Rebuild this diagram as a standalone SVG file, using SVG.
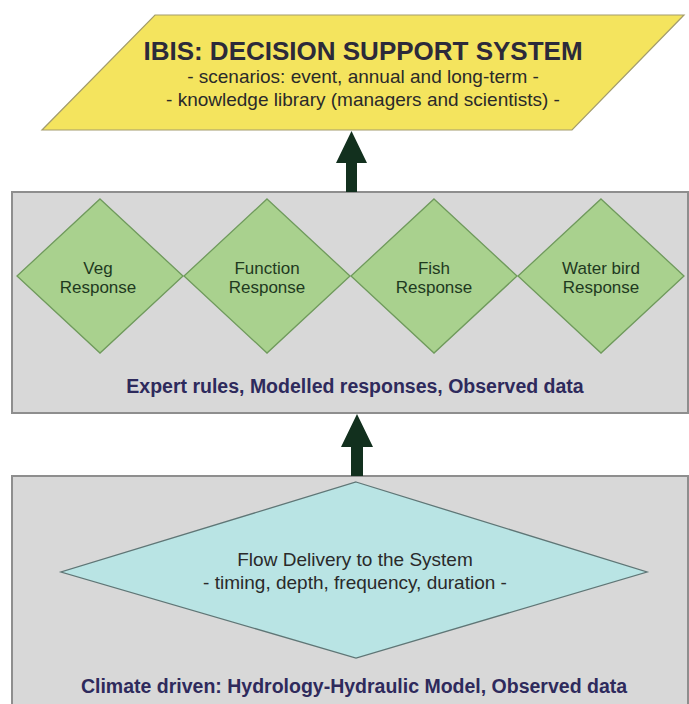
<svg xmlns="http://www.w3.org/2000/svg" width="689" height="704" viewBox="0 0 689 704">
  <defs>
    <style>
      .panel { fill: #d8d8d8; stroke: #8e8e8e; stroke-width: 2; }
      .green { fill: #a9d18e; stroke: #6f9a5c; stroke-width: 1.3; }
      .cyan { fill: #b9e4e4; stroke: #5f7676; stroke-width: 1.3; }
      .ibis { fill: #f4e45e; stroke: #a39c6c; stroke-width: 1.2; }
      .arrow { fill: #12301e; }
      .t { font-family: "Liberation Sans", Arial, sans-serif; text-anchor: middle; }
      .title { font-size: 26px; font-weight: bold; fill: #2c2a3a; }
      .sub { font-size: 19px; fill: #2a2a2a; }
      .resp { font-size: 17px; fill: #1f3a1f; }
      .cap { font-size: 19.5px; font-weight: bold; fill: #2e2a5c; }
    </style>
  </defs>

  <rect width="689" height="704" fill="#ffffff"/>

  <!-- response layer panel -->
  <g id="response-panel">
    <rect class="panel" x="12" y="192" width="676" height="221"/>
    <text class="t cap" x="355" y="393">Expert rules, Modelled responses, Observed data</text>
  </g>

  <!-- hydrology layer panel -->
  <g id="hydrology-panel">
    <rect class="panel" x="12" y="476" width="676" height="240"/>
    <text class="t cap" x="354" y="693">Climate driven: Hydrology-Hydraulic Model, Observed data</text>
  </g>

  <!-- decision support system -->
  <g id="ibis">
    <polygon class="ibis" points="155,15 684,15 572,130 42,130"/>
    <text class="t title" x="363" y="60">IBIS: DECISION SUPPORT SYSTEM</text>
    <text class="t sub" x="363" y="83">- scenarios: event, annual and long-term -</text>
    <text class="t sub" x="363" y="106">- knowledge library (managers and scientists) -</text>
  </g>

  <!-- response diamonds -->
  <g id="veg">
    <polygon class="green" points="100,199 183,276 100,353 17,276"/>
    <text class="t resp" x="98" y="274">Veg</text>
    <text class="t resp" x="98" y="293">Response</text>
  </g>
  <g id="function">
    <polygon class="green" points="267,199 350,276 267,353 184,276"/>
    <text class="t resp" x="267" y="274">Function</text>
    <text class="t resp" x="267" y="293">Response</text>
  </g>
  <g id="fish">
    <polygon class="green" points="434,199 517,276 434,353 351,276"/>
    <text class="t resp" x="434" y="274">Fish</text>
    <text class="t resp" x="434" y="293">Response</text>
  </g>
  <g id="waterbird">
    <polygon class="green" points="601,199 684,276 601,353 518,276"/>
    <text class="t resp" x="601" y="274">Water bird</text>
    <text class="t resp" x="601" y="293">Response</text>
  </g>

  <!-- flow delivery -->
  <g id="flow">
    <polygon class="cyan" points="356,482 647,572 356,658 61,572"/>
    <text class="t sub" x="355" y="566">Flow Delivery to the System</text>
    <text class="t sub" x="355" y="589">- timing, depth, frequency, duration -</text>
  </g>

  <!-- connectors: block arrows between layers -->
  <g id="connectors">
    <polygon class="arrow" points="351.5,131 367,163 357,163 357,192 346,192 346,163 336,163"/>
    <polygon class="arrow" points="357,414 373,447 363,447 363,476 351,476 351,447 341,447"/>
  </g>
</svg>
